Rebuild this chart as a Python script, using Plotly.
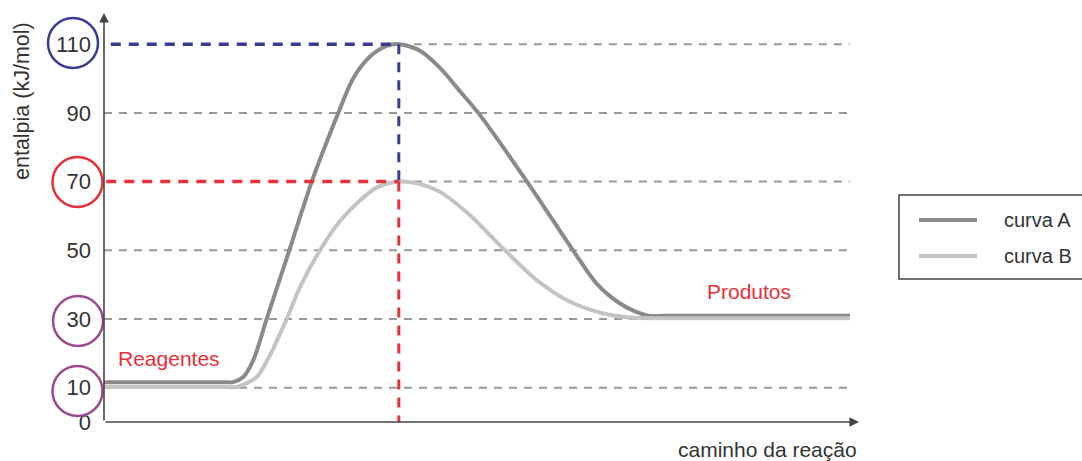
import plotly.graph_objects as go

# ---- data ----
curve_a_x = [0, 15.8, 17.11, 18.47, 19.80, 21.58, 23.12, 24.58, 26.00, 27.55, 28.65, 31.07, 33.06,
             35.28, 37.49, 39.2, 41.91, 44.56, 47.21, 49.64, 56.1, 62.2, 65.34, 68.44, 70.65,
             72.41, 74.40, 85.68, 98.94]
curve_a_y = [11.6, 11.6, 11.6, 13.1, 18.0, 30, 40.3, 50, 59.7, 70, 76.5, 90, 100.1,
             106.4, 109.5, 110, 108.1, 103.1, 96.3, 90, 70, 50, 40.3, 34.5, 32.0,
             30.9, 30.9, 30.9, 30.9]
curve_b_x = [0, 16.3, 17.64, 20.25, 22.02, 24.23, 26.00, 28.65, 31.30, 33.95, 36.21, 39.2, 41.91,
             44.56, 48.54, 50.75, 53.18, 57.39, 61.80, 66.22, 69.76, 73.74, 85.68, 98.94]
curve_b_y = [10.2, 10.2, 10.2, 13.1, 19.5, 30, 39.3, 50, 58.5, 64.5, 68.3, 70, 69.3,
             67.0, 60.2, 55.4, 50, 41.3, 35.0, 31.6, 30.4, 30.2, 30.2, 30.2]
series_names = ["curva A", "curva B"]
tick_vals = [0, 10, 30, 50, 70, 90, 110]
tick_text = ["0", "10", "30", "50", "70", "90", "110"]
grid_levels = [10, 30, 50, 90]
peak_x = 39.1
peak_a = 110
peak_b = 70
grid_end = 98.9
x_title = "caminho da reação"
y_title = "entalpia (kJ/mol)"
label_reag = "Reagentes"
label_prod = "Produtos"

# ---- layout geometry (pixels) ----
W, H = 1082, 461
L, R, T, B = 104, 224, 15, 39
PW, PH = W - L - R, H - T - B

def px(x):
    return (x - L) / PW

def py(y):
    return (H - B - y) / PH

FONT = "Liberation Sans, Arial, sans-serif"
COL_A = "#8a8a8a"
COL_B = "#c4c4c4"
BLUE = "#393c92"
RED = "#e8303a"
PURPLE = "#9c4a8e"
GRID = "#999999"
TXT = "#333333"

fig = go.Figure()
fig.add_trace(go.Scatter(x=curve_a_x, y=curve_a_y, mode="lines", name=series_names[0],
                         line=dict(color=COL_A, width=4, shape="spline", smoothing=0.85)))
fig.add_trace(go.Scatter(x=curve_b_x, y=curve_b_y, mode="lines", name=series_names[1],
                         line=dict(color=COL_B, width=4, shape="spline", smoothing=0.85)))

shapes = []
gdash = dict(color=GRID, width=2, dash="8px,7px")
for g in grid_levels:
    shapes.append(dict(type="line", xref="x", yref="y", x0=0, x1=grid_end, y0=g, y1=g,
                       line=gdash, layer="below"))
for lvl in (peak_a, peak_b):
    shapes.append(dict(type="line", xref="x", yref="y", x0=peak_x, x1=grid_end, y0=lvl, y1=lvl,
                       line=gdash, layer="below"))
cdash = "10px,8px"
shapes.append(dict(type="line", xref="x", yref="y", x0=0.9, x1=peak_x, y0=peak_a, y1=peak_a,
                   line=dict(color=BLUE, width=3.5, dash=cdash)))
shapes.append(dict(type="line", xref="x", yref="y", x0=0.3, x1=peak_x, y0=peak_b, y1=peak_b,
                   line=dict(color=RED, width=3.5, dash=cdash)))
shapes.append(dict(type="line", xref="x", yref="y", x0=peak_x, x1=peak_x, y0=peak_a, y1=peak_b,
                   line=dict(color=BLUE, width=3, dash=cdash)))
shapes.append(dict(type="line", xref="x", yref="y", x0=peak_x, x1=peak_x, y0=peak_b, y1=0,
                   line=dict(color=RED, width=3, dash=cdash)))

# circles around tick labels
circles = [(73, 43, BLUE), (77.5, 182, RED), (78, 321, PURPLE), (77.5, 391, PURPLE)]
for cx, cy, c in circles:
    shapes.append(dict(type="circle", xref="paper", yref="paper",
                       x0=px(cx - 25), x1=px(cx + 25), y0=py(cy + 25), y1=py(cy - 25),
                       line=dict(color=c, width=2.5)))

# legend box
shapes.append(dict(type="rect", xref="paper", yref="paper", x0=px(899), x1=px(1095),
                   y0=py(279), y1=py(195), line=dict(color="#444444", width=1.5),
                   fillcolor="white"))
shapes.append(dict(type="line", xref="paper", yref="paper", x0=px(919), x1=px(977),
                   y0=py(220), y1=py(220), line=dict(color=COL_A, width=4)))
shapes.append(dict(type="line", xref="paper", yref="paper", x0=px(919), x1=px(977),
                   y0=py(256), y1=py(256), line=dict(color=COL_B, width=4)))

annotations = [
    # axis arrows
    dict(xref="paper", yref="paper", x=0, y=py(13), ax=0, ay=409, axref="pixel", ayref="pixel",
         text="", showarrow=True, arrowhead=2, arrowsize=1.2, arrowwidth=1.6, arrowcolor="#444444"),
    dict(xref="paper", yref="paper", x=px(859), y=0, ax=-755, ay=0, axref="pixel", ayref="pixel",
         text="", showarrow=True, arrowhead=2, arrowsize=1.2, arrowwidth=1.6, arrowcolor="#444444"),
    dict(xref="paper", yref="paper", x=px(859), y=py(450), text=x_title, showarrow=False,
         xanchor="right", yanchor="middle", font=dict(family=FONT, size=21, color=TXT)),
    dict(xref="paper", yref="paper", x=px(22), y=py(101), text=y_title, showarrow=False,
         textangle=-90, xanchor="center", yanchor="middle",
         font=dict(family=FONT, size=21.5, color=TXT)),
    dict(xref="paper", yref="paper", x=px(116), y=py(358), text=label_reag, showarrow=False,
         xanchor="left", yanchor="middle", font=dict(family=FONT, size=21, color=RED)),
    dict(xref="paper", yref="paper", x=px(705), y=py(291), text=label_prod, showarrow=False,
         xanchor="left", yanchor="middle", font=dict(family=FONT, size=21, color=RED)),
    dict(xref="paper", yref="paper", x=px(1002), y=py(220), text=series_names[0], showarrow=False,
         xanchor="left", yanchor="middle", font=dict(family=FONT, size=20, color=TXT)),
    dict(xref="paper", yref="paper", x=px(1002), y=py(256), text=series_names[1], showarrow=False,
         xanchor="left", yanchor="middle", font=dict(family=FONT, size=20, color=TXT)),
]

fig.update_layout(
    width=W, height=H,
    margin=dict(l=L, r=R, t=T, b=B, autoexpand=False),
    paper_bgcolor="white", plot_bgcolor="white",
    showlegend=False,
    shapes=shapes, annotations=annotations,
    xaxis=dict(range=[0, 100], showgrid=False, zeroline=False, showline=False,
               showticklabels=False, ticks="", fixedrange=True),
    yaxis=dict(range=[0, 118.5], showgrid=False, zeroline=False, showline=False,
               tickmode="array", tickvals=tick_vals, ticktext=tick_text, ticks="",
               ticklabelstandoff=12,
               tickfont=dict(family=FONT, size=22, color=TXT), fixedrange=True),
)

fig.write_html("out.html", config={"displayModeBar": False},
               post_script="document.body.style.margin='0';document.body.style.overflow='hidden';")
